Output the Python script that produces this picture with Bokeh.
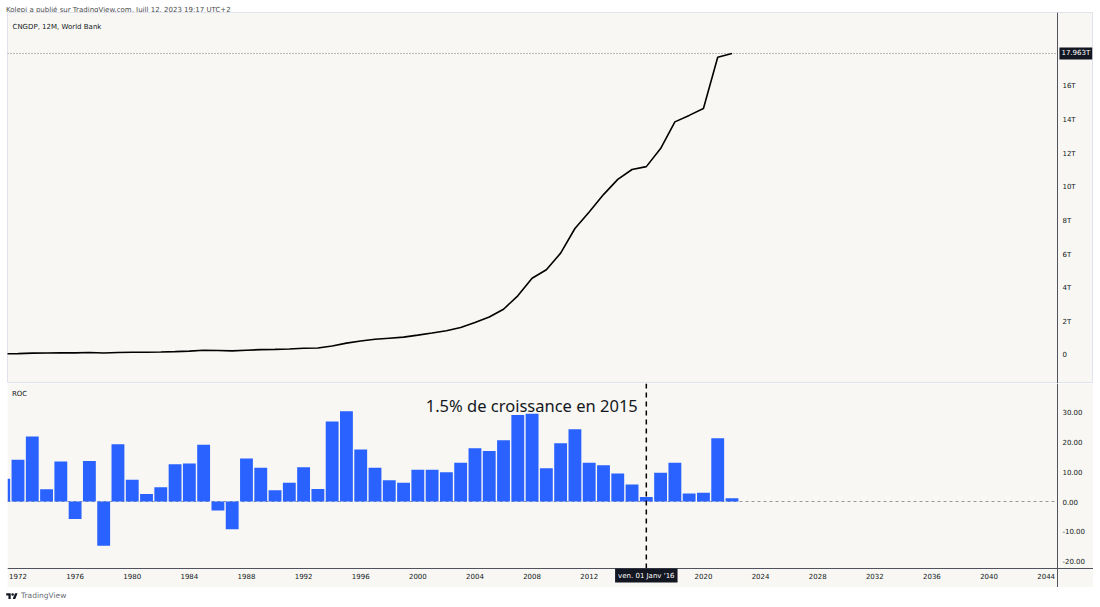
from bokeh.plotting import figure
from bokeh.models import Range1d, FixedTicker, Label, Div
from bokeh.layouts import column
from bokeh.embed import file_html
from bokeh.resources import INLINE

# ---------------- data ----------------
gdp_years = list(range(1970, 2023))
gdp_trillions = [0.0926, 0.0998, 0.1137, 0.1385, 0.1442, 0.1634, 0.1539, 0.1749, 0.1495, 0.1783,
                 0.1911, 0.1959, 0.2051, 0.2307, 0.2599, 0.3095, 0.3008, 0.2729, 0.3124, 0.3478,
                 0.3609, 0.3834, 0.4269, 0.4447, 0.5643, 0.7345, 0.8637, 0.9616, 1.0290, 1.0940,
                 1.2113, 1.3394, 1.4706, 1.6603, 1.9553, 2.2860, 2.7521, 3.5503, 4.5943, 5.1017,
                 6.0872, 7.5515, 8.5322, 9.5704, 10.4757, 11.0616, 11.2333, 12.3104, 13.8948, 14.2799,
                 14.6877, 17.7341, 17.963]

roc_years = list(range(1971, 2023))
roc_values = [7.6, 14.0, 21.8, 4.1, 13.4, -5.9, 13.6, -14.8, 19.2, 7.3,
              2.5, 4.8, 12.5, 12.7, 19.0, -3.0, -9.3, 14.4, 11.3, 3.8,
              6.3, 11.5, 4.2, 26.8, 30.2, 17.4, 11.3, 7.1, 6.3, 10.6,
              10.6, 9.8, 13.0, 17.8, 16.9, 20.5, 29.0, 29.4, 11.1, 19.5,
              24.2, 13.0, 12.1, 9.4, 5.7, 1.5, 9.6, 13.0, 2.7, 2.9,
              21.2, 1.1]

price_ticks = [0, 2, 4, 6, 8, 10, 12, 14, 16]
price_labels = ["0", "2T", "4T", "6T", "8T", "10T", "12T", "14T", "16T"]
roc_ticks = [-20, -10, 0, 10, 20, 30]
roc_labels = ["-20.00", "-10.00", "0.00", "10.00", "20.00", "30.00"]
time_ticks = [1972, 1976, 1980, 1984, 1988, 1992, 1996, 2000, 2004, 2008, 2012,
              2020, 2024, 2028, 2032, 2036, 2040, 2044]
time_labels = [str(t) for t in time_ticks]

header_text = "Kolepi a publié sur TradingView.com, Juill 12, 2023 19:17 UTC+2"
main_title = "CNGDP, 12M, World Bank"
roc_title = "ROC"
note_text = "1.5% de croissance en 2015"
cursor_text = "ven. 01 Janv '16"
marker_year = 2016

# ---------------- style / geometry ----------------
BG = "#f8f7f3"
W = 1086
LEFT_PAD = 7
FONT = "DejaVu Sans"
TXT = "#131722"
AXIS = "#50535e"

X_START = 1971.265     # left frame edge
X_AXIS = 2044.79       # where the price scale starts
X_END = 2047.315       # right edge of the price scale area
TOP_Y = (-1.666, 20.40)
BOT_Y = (-28.80, 39.52)
TIME_AXIS_Y = -22.44   # time scale line inside the lower pane

x_range = Range1d(X_START, X_END)


def style_axis(ax, ticks, labels, standoff):
    ax.ticker = FixedTicker(ticks=ticks)
    ax.major_label_overrides = dict(zip(ticks, labels))
    ax.major_tick_out = 0
    ax.major_tick_in = 0
    ax.minor_tick_out = 0
    ax.minor_tick_in = 0
    ax.axis_line_color = AXIS
    ax.major_label_standoff = standoff
    ax.major_label_text_font = FONT
    ax.major_label_text_font_size = "7px"
    ax.major_label_text_color = TXT


# ---------------- main pane ----------------
top = figure(width=W, height=371, x_range=x_range, y_range=Range1d(*TOP_Y),
             x_axis_location=None, y_axis_location="right",
             toolbar_location=None, tools="", output_backend="svg",
             min_border_left=0, min_border_right=0, min_border_top=0, min_border_bottom=0,
             background_fill_color=BG, border_fill_color=BG, outline_line_color="#e0e3eb",
             margin=(0, 0, 0, LEFT_PAD))
top.grid.visible = False
top.segment(x0=X_START, y0=gdp_trillions[-1], x1=X_AXIS, y1=gdp_trillions[-1],
            line_color="#787b86", line_dash="1 2", line_width=1)
top.line(gdp_years, gdp_trillions, line_color="black", line_width=1.6)
top.yaxis[0].fixed_location = X_AXIS
style_axis(top.yaxis[0], price_ticks, price_labels, 5)

top.add_layout(Label(x=5, y=357, x_units="screen", y_units="screen", text=main_title,
                     text_font=FONT, text_font_size="7px", text_color=TXT,
                     text_baseline="middle"))
top.add_layout(Label(x=X_AXIS, x_offset=2, y=gdp_trillions[-1],
                     text=f"{gdp_trillions[-1]:.3f}T", text_font=FONT, text_font_size="7px",
                     text_color="white", text_baseline="middle",
                     background_fill_color=TXT, padding=2))

# ---------------- ROC pane ----------------
bot = figure(width=W, height=204, x_range=x_range, y_range=Range1d(*BOT_Y),
             x_axis_location="below", y_axis_location="right",
             toolbar_location=None, tools="", output_backend="svg",
             min_border_left=0, min_border_right=0, min_border_top=0, min_border_bottom=0,
             background_fill_color=BG, border_fill_color=BG, outline_line_color=None,
             margin=(0, 0, 0, LEFT_PAD))
bot.grid.visible = False
bot.segment(x0=X_START, y0=0, x1=X_AXIS, y1=0, line_color="#9598a1",
            line_dash="3 3", line_width=1)
bot.vbar(x=roc_years, top=roc_values, bottom=0, width=0.9,
         fill_color="#2962ff", line_color=None)
bot.segment(x0=marker_year, y0=TIME_AXIS_Y, x1=marker_year, y1=BOT_Y[1],
            line_color="black", line_dash="5 4", line_width=1.5)

bot.yaxis[0].fixed_location = X_AXIS
style_axis(bot.yaxis[0], roc_ticks, roc_labels, 5)
bot.xaxis[0].fixed_location = TIME_AXIS_Y
style_axis(bot.xaxis[0], time_ticks, time_labels, 4)
bot.xaxis[0].axis_line_width = 1.2

bot.add_layout(Label(x=4.5, y=194, x_units="screen", y_units="screen", text=roc_title,
                     text_font=FONT, text_font_size="7px", text_color=TXT,
                     text_baseline="middle"))
bot.add_layout(Label(x=2015.4, y=32.2, text=note_text, text_align="right",
                     text_baseline="alphabetic", text_font="Noto Sans",
                     text_font_size="16.5px", text_color=TXT))
bot.add_layout(Label(x=marker_year, y=TIME_AXIS_Y, y_offset=-7,
                     text=cursor_text, text_align="center", text_baseline="middle",
                     text_font=FONT, text_font_size="7px", text_color="white",
                     background_fill_color=TXT, padding=3))

# ---------------- header / footer ----------------
header = Div(text=f'<span style="font-family:\'DejaVu Sans\';font-size:7px;color:#4a4a4a;'
                  f'white-space:nowrap;position:relative;top:3px;">{header_text}</span>',
             width=1000, height=12, margin=(0, 0, 0, 6),
             styles={"background-color": "white", "line-height": "10px"})

logo = ('<svg width="12" height="9" viewBox="0 0 36 28" style="margin-right:3px">'
        '<path d="M14 22H7V11H0V4h14v18zM28 22h-8l7.5-18h8L28 22z" fill="#131722"/>'
        '<circle cx="20" cy="8" r="4" fill="#131722"/></svg>')
footer = Div(text=f'<div style="display:flex;align-items:center;height:12px;margin-top:3px;">{logo}'
                  f'<span style="font-family:\'DejaVu Sans\';font-size:7.5px;color:#6a6d78;">'
                  f'TradingView</span></div>',
             width=300, height=20, margin=(0, 0, 0, 6),
             styles={"background-color": "white"})

layout = column(header, top, bot, footer, spacing=0)

open("out.html", "w").write(file_html(layout, INLINE))
